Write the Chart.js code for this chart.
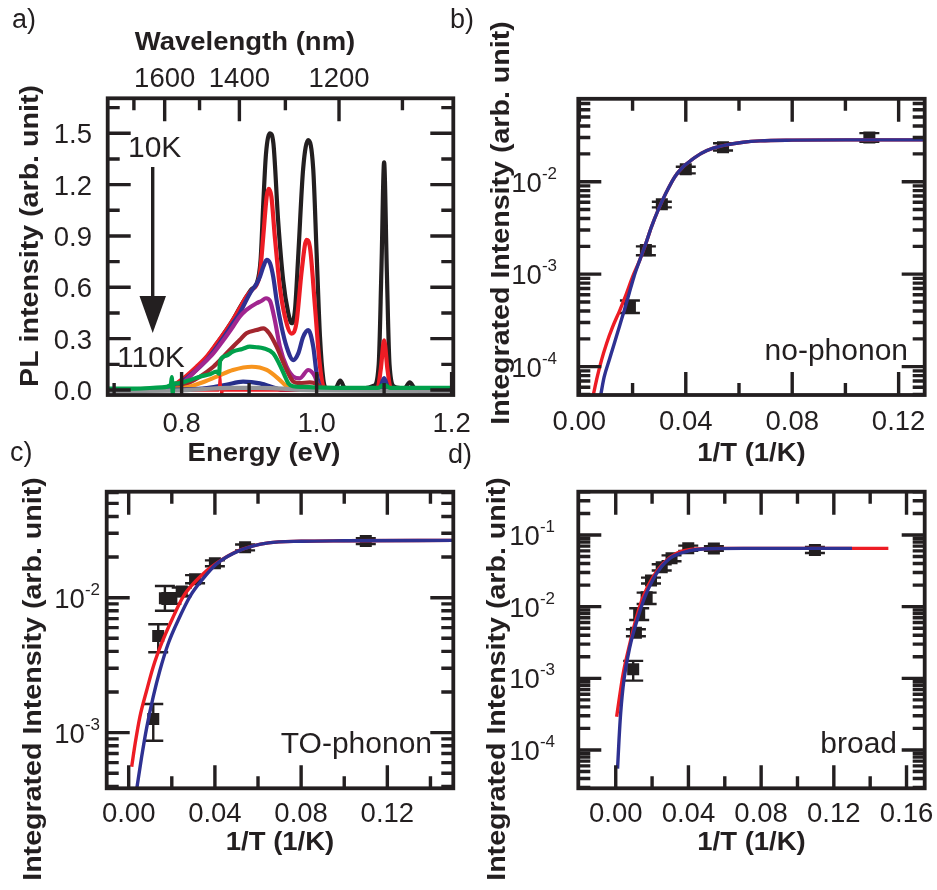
<!DOCTYPE html>
<html lang="en">
<head>
<meta charset="UTF-8">
<title>PL spectra and integrated intensity vs 1/T</title>
<script src="https://cdn.jsdelivr.net/npm/chart.js"></script>
<style>
  body { margin: 0; background: #fff; }
  #wrap { position: relative; width: 937px; height: 890px; }
  #wrap canvas { position: absolute; left: 0; top: 0; }
</style>
</head>
<body>
<div id="wrap">
  <canvas id="panelA" width="937" height="890"></canvas>
  <canvas id="panelB" width="937" height="890"></canvas>
  <canvas id="panelC" width="937" height="890"></canvas>
  <canvas id="panelD" width="937" height="890"></canvas>
</div>
<script>
// ---- a) PL spectra, [energy (eV), intensity] ----
const spec10K = [[0.69,0.005],[0.76,0.005],[0.785,0.02],[0.80,0.05],[0.82,0.12],[0.837,0.19],[0.852,0.27],[0.866,0.35],[0.876,0.41],[0.886,0.48],[0.896,0.545],[0.904,0.59],[0.911,0.62],[0.917,0.76],[0.921,1.09],[0.925,1.38],[0.931,1.50],[0.936,1.44],[0.943,0.99],[0.9505,0.64],[0.958,0.45],[0.963,0.39],[0.968,0.47],[0.973,0.80],[0.980,1.29],[0.9876,1.46],[0.995,1.29],[1.0,0.80],[1.005,0.31],[1.01,0.06],[1.015,0.01],[1.028,0.012],[1.035,0.055],[1.042,0.012],[1.07,0.01],[1.085,0.025],[1.092,0.15],[1.096,0.70],[1.100,1.33],[1.104,0.70],[1.108,0.15],[1.115,0.02],[1.13,0.01],[1.138,0.045],[1.146,0.01],[1.203,0.005]];
const spec20K = [[0.69,0.005],[0.775,0.008],[0.788,0.029],[0.8025,0.068],[0.822,0.136],[0.837,0.195],[0.852,0.273],[0.866,0.35],[0.876,0.41],[0.886,0.477],[0.896,0.545],[0.904,0.584],[0.911,0.614],[0.916,0.68],[0.921,0.90],[0.926,1.13],[0.929,1.175],[0.933,1.13],[0.938,0.90],[0.9456,0.60],[0.953,0.43],[0.963,0.33],[0.970,0.39],[0.978,0.70],[0.985,0.877],[0.990,0.837],[0.9976,0.487],[1.004,0.175],[1.01,0.02],[1.016,0.005],[1.09,0.008],[1.095,0.12],[1.1,0.29],[1.105,0.12],[1.11,0.008],[1.203,0.005]];
const spec30K = [[0.69,0.0],[0.78,0.005],[0.7975,0.04],[0.817,0.10],[0.837,0.175],[0.852,0.25],[0.866,0.33],[0.876,0.39],[0.886,0.448],[0.896,0.526],[0.9037,0.58],[0.911,0.62],[0.916,0.662],[0.921,0.72],[0.926,0.76],[0.931,0.74],[0.9357,0.662],[0.9407,0.526],[0.948,0.37],[0.9555,0.253],[0.9654,0.175],[0.9728,0.214],[0.980,0.31],[0.9876,0.35],[0.995,0.253],[1.0,0.097],[1.005,0.02],[1.01,0.005],[1.093,0.005],[1.1,0.07],[1.107,0.005],[1.203,0.0]];
const spec40K = [[0.69,0.0],[0.79,0.01],[0.807,0.06],[0.827,0.136],[0.847,0.214],[0.862,0.292],[0.876,0.37],[0.886,0.428],[0.896,0.468],[0.911,0.507],[0.918,0.52],[0.925,0.536],[0.931,0.52],[0.938,0.41],[0.9456,0.253],[0.9555,0.136],[0.9654,0.078],[0.975,0.068],[0.9876,0.117],[0.9975,0.078],[1.0025,0.02],[1.008,0.005],[1.203,0.0]];
const spec50K = [[0.69,0.0],[0.79,0.01],[0.807,0.035],[0.827,0.078],[0.847,0.136],[0.862,0.195],[0.876,0.253],[0.886,0.292],[0.896,0.331],[0.911,0.35],[0.921,0.36],[0.93,0.33],[0.9407,0.253],[0.9556,0.117],[0.9654,0.049],[0.975,0.04],[0.99,0.045],[1.0,0.035],[1.008,0.01],[1.015,0.003],[1.203,0.0]];
const spec60K = [[0.69,0.008],[0.73,0.008],[0.77,0.015],[0.784,0.03],[0.7855,0.075],[0.7868,-0.03],[0.788,0.04],[0.7926,0.039],[0.81,0.055],[0.827,0.078],[0.84,0.09],[0.852,0.107],[0.8555,0.095],[0.857,0.17],[0.866,0.2],[0.876,0.225],[0.89,0.24],[0.901,0.253],[0.911,0.25],[0.921,0.244],[0.9357,0.214],[0.945,0.15],[0.952,0.09],[0.958,0.04],[0.965,0.022],[0.98,0.018],[1.0,0.015],[1.05,0.012],[1.09,0.012],[1.1,0.03],[1.11,0.012],[1.15,0.012],[1.203,0.012]];
const spec70K = [[0.69,0.0],[0.80,0.01],[0.827,0.039],[0.852,0.078],[0.876,0.117],[0.904,0.136],[0.926,0.117],[0.9456,0.058],[0.956,0.02],[0.965,0.005],[1.203,0.0]];
const spec80K = [[0.69,0.0],[0.82,0.005],[0.845,0.015],[0.866,0.03],[0.891,0.049],[0.916,0.039],[0.94,0.01],[0.95,0.0],[1.203,0.0]];
const spec90K = [[0.69,-0.005],[0.80,-0.002],[0.83,0.005],[0.87,0.012],[0.91,0.012],[0.95,0.008],[0.975,0.0],[1.203,-0.005]];
const spec100K = [[0.69,-0.003],[0.855,-0.003],[0.857,0.09],[0.859,-0.04],[0.861,-0.003],[1.203,-0.003]];

const aYTicks = [0, 0.3, 0.6, 0.9, 1.2, 1.5];
const aXTicks = [0.8, 1.0, 1.2];
const aWavelengthTicks = [1600, 1400, 1200];

// ---- b) no-phonon line ----
const nophX  = [0.019, 0.025, 0.031, 0.040, 0.054, 0.109];
const nophY  = [4.5e-4, 1.82e-3, 5.7e-3, 1.36e-2, 2.36e-2, 3.0e-2];
const nophLo = [3.8e-4, 1.6e-3, 5.27e-3, 1.23e-2, 2.17e-2, 2.7e-2];
const nophHi = [5.2e-4, 2.0e-3, 6.07e-3, 1.45e-2, 2.6e-2, 3.35e-2];
const nophFitRed  = [[0.0052,4.89e-5],[0.0067,7.7e-5],[0.0083,1.17e-4],[0.0102,1.77e-4],[0.0125,2.69e-4],[0.0152,4.07e-4],[0.0177,6.18e-4],[0.0200,9.35e-4],[0.0227,1.42e-3],[0.0250,2.15e-3],[0.0271,3.25e-3],[0.0296,4.93e-3],[0.0325,7.48e-3],[0.0359,1.13e-2],[0.0390,1.45e-2],[0.0422,1.72e-2],[0.0459,2.03e-2],[0.0503,2.3e-2],[0.0553,2.5e-2],[0.0616,2.67e-2],[0.0679,2.76e-2],[0.08,2.81e-2],[0.10,2.83e-2],[0.13,2.83e-2]];
const nophFitBlue = [[0.0080,4.89e-5],[0.0093,7.7e-5],[0.0112,1.17e-4],[0.0131,1.77e-4],[0.0150,2.69e-4],[0.0169,4.07e-4],[0.0187,6.18e-4],[0.0205,9.35e-4],[0.0227,1.42e-3],[0.0250,2.15e-3],[0.0271,3.25e-3],[0.0296,4.93e-3],[0.0325,7.48e-3],[0.0359,1.13e-2],[0.0390,1.45e-2],[0.0422,1.72e-2],[0.0459,2.03e-2],[0.0503,2.3e-2],[0.0553,2.5e-2],[0.0616,2.67e-2],[0.0679,2.76e-2],[0.08,2.81e-2],[0.10,2.83e-2],[0.13,2.83e-2]];

// ---- c) TO-phonon replica ----
const toX  = [0.0114, 0.0137, 0.0168, 0.0198, 0.0246, 0.0308, 0.040, 0.054, 0.110];
const toY  = [1.26e-3, 5.2e-3, 9.9e-3, 9.9e-3, 1.11e-2, 1.37e-2, 1.8e-2, 2.36e-2, 2.63e-2];
const toLo = [8.7e-4, 3.94e-3, 8.0e-3, 9.0e-3, 1.03e-2, 1.28e-2, 1.71e-2, 2.24e-2, 2.5e-2];
const toHi = [1.63e-3, 6.35e-3, 1.22e-2, 1.08e-2, 1.19e-2, 1.47e-2, 1.89e-2, 2.48e-2, 2.76e-2];
const toFitRed  = [[0.0014,5.6e-4],[0.003,8.3e-4],[0.0052,1.31e-3],[0.0084,2.07e-3],[0.0114,3.08e-3],[0.0153,4.6e-3],[0.020,6.84e-3],[0.0253,1.02e-2],[0.0331,1.43e-2],[0.0408,1.8e-2],[0.0516,2.25e-2],[0.0648,2.55e-2],[0.08,2.62e-2],[0.10,2.64e-2],[0.1506,2.66e-2]];
const toFitBlue = [[0.0037,3.8e-4],[0.006,6.6e-4],[0.0084,1.1e-3],[0.0114,1.85e-3],[0.0145,2.9e-3],[0.0184,4.6e-3],[0.023,6.84e-3],[0.0284,1.02e-2],[0.0346,1.39e-2],[0.0408,1.78e-2],[0.0516,2.24e-2],[0.0648,2.55e-2],[0.08,2.62e-2],[0.10,2.64e-2],[0.1506,2.66e-2]];

// ---- d) broad band ----
const brX  = [0.0096, 0.0111, 0.0129, 0.017, 0.0194, 0.0253, 0.0307, 0.0399, 0.054, 0.1096];
const brY  = [1.34e-3, 4.34e-3, 7.9e-3, 1.35e-2, 2.31e-2, 3.54e-2, 4.73e-2, 6.52e-2, 6.5e-2, 6.18e-2];
const brLo = [9.3e-4, 3.87e-3, 6.5e-3, 1.09e-2, 2.1e-2, 3.2e-2, 4.3e-2, 6.0e-2, 6.0e-2, 5.6e-2];
const brHi = [1.75e-3, 4.85e-3, 9.5e-3, 1.57e-2, 2.54e-2, 3.9e-2, 5.2e-2, 7.1e-2, 7.0e-2, 6.8e-2];
const brFitRed  = [[0.0005,2.92e-4],[0.0041,1.17e-3],[0.0078,3.08e-3],[0.0115,7.24e-3],[0.0151,1.38e-2],[0.0206,2.62e-2],[0.0261,4.02e-2],[0.0335,5.55e-2],[0.0445,6.38e-2],[0.06,6.5e-2],[0.15,6.5e-2]];
const brFitBlue = [[0.001,5.5e-5],[0.0018,1.38e-4],[0.0027,3.25e-4],[0.0045,9.5e-4],[0.0078,2.77e-3],[0.0115,6.18e-3],[0.0161,1.38e-2],[0.0225,2.92e-2],[0.0298,4.73e-2],[0.0408,6.04e-2],[0.0518,6.43e-2],[0.07,6.5e-2],[0.13,6.5e-2]];

const invTTicksBC = [0, 0.04, 0.08, 0.12];
const invTTicksD  = [0, 0.04, 0.08, 0.12, 0.16];

// ---- drawing helpers ----
const W = 937, H = 890;
const FONT = '"Liberation Sans", Arial, Helvetica, sans-serif';
const INK = '#231f20';
const RED = '#ed1c24', BLUE = '#2e3192';
const LONG = 23, SHORT = 12, CAP = 10;

const toXY = arr => arr.map(([x, y]) => ({ x, y }));
const zipXY = (xs, ys) => xs.map((x, i) => ({ x, y: ys[i] }));

function label(ctx, s, x, y, o = {}) {
  ctx.save();
  ctx.font = (o.bold ? 'bold ' : '') + (o.size || 27.5) + 'px ' + FONT;
  ctx.fillStyle = INK;
  ctx.textAlign = o.align || 'left';
  ctx.textBaseline = 'alphabetic';
  ctx.translate(x, y);
  if (o.rot) ctx.rotate(-Math.PI / 2);
  if (o.sx) ctx.scale(o.sx, 1);
  ctx.fillText(s, 0, 0);
  ctx.restore();
}

function powLabel(ctx, exp, right, yPix) {
  ctx.save();
  ctx.font = '17px ' + FONT;
  const sup = String(exp);
  const w = ctx.measureText(sup).width;
  ctx.restore();
  label(ctx, sup, right - w, yPix - 3, { size: 17 });
  label(ctx, '10', right - w, yPix + 10, { align: 'right' });
}

function linearTicks(from, to, step) {
  const out = [];
  for (let v = from; v <= to + step / 1000; v += step) out.push(+v.toFixed(6));
  return out;
}

function logTicks(min, max) {
  const major = [], minor = [];
  for (let e = Math.floor(Math.log10(min)); e <= Math.ceil(Math.log10(max)); e++) {
    const d = Math.pow(10, e);
    if (d >= min && d <= max) major.push(d);
    for (let m = 2; m < 10; m++) {
      const v = m * d;
      if (v >= min && v <= max) minor.push(v);
    }
  }
  return { major, minor };
}

function xTicks(ctx, chart, values, len, sides) {
  const a = chart.chartArea, x = chart.scales.x;
  ctx.beginPath();
  values.forEach(v => {
    const p = x.getPixelForValue(v);
    if (sides.includes('b')) { ctx.moveTo(p, a.bottom); ctx.lineTo(p, a.bottom - len); }
    if (sides.includes('t')) { ctx.moveTo(p, a.top); ctx.lineTo(p, a.top + len); }
  });
  ctx.stroke();
}

function yTicks(ctx, chart, values, len) {
  const a = chart.chartArea, y = chart.scales.y;
  ctx.beginPath();
  values.forEach(v => {
    const p = y.getPixelForValue(v);
    ctx.moveTo(a.left, p); ctx.lineTo(a.left + len, p);
    ctx.moveTo(a.right, p); ctx.lineTo(a.right - len, p);
  });
  ctx.stroke();
}

function frame(ctx, chart) {
  const a = chart.chartArea;
  ctx.lineWidth = 3.8;
  ctx.strokeStyle = INK;
  ctx.lineCap = 'butt';
  ctx.strokeRect(a.left, a.top, a.right - a.left, a.bottom - a.top);
}

function decor(draw) {
  return { id: 'decor', afterDraw(chart) { const ctx = chart.ctx; ctx.save(); draw(chart, ctx); ctx.restore(); } };
}

function errorBars(xs, lo, hi) {
  return {
    id: 'errorBars',
    beforeDatasetsDraw(chart) {
      const { ctx, scales: { x, y } } = chart;
      ctx.save();
      ctx.strokeStyle = INK;
      ctx.lineWidth = 2.4;
      xs.forEach((v, i) => {
        const px = x.getPixelForValue(v);
        const p1 = y.getPixelForValue(lo[i]), p2 = y.getPixelForValue(hi[i]);
        ctx.beginPath();
        ctx.moveTo(px, p1); ctx.lineTo(px, p2);
        ctx.moveTo(px - CAP, p1); ctx.lineTo(px + CAP, p1);
        ctx.moveTo(px - CAP, p2); ctx.lineTo(px + CAP, p2);
        ctx.stroke();
      });
      ctx.restore();
    }
  };
}

function baseOptions(area, xRange, yRange, yType) {
  return {
    responsive: false,
    animation: false,
    events: [],
    layout: { padding: { left: area.left, top: area.top, right: W - area.right, bottom: H - area.bottom } },
    plugins: { legend: { display: false }, tooltip: { enabled: false } },
    scales: {
      x: { type: 'linear', display: false, min: xRange[0], max: xRange[1] },
      y: { type: yType, display: false, min: yRange[0], max: yRange[1] }
    }
  };
}

function line(data, color, order, width) {
  return {
    type: 'line', data: toXY(data), borderColor: color, borderWidth: width || 4.2,
    pointRadius: 0, fill: false, cubicInterpolationMode: 'monotone', order
  };
}

function markers(xs, ys) {
  return {
    type: 'scatter', data: zipXY(xs, ys), pointStyle: 'rect', pointRadius: 8.5,
    backgroundColor: INK, borderWidth: 0, order: 3
  };
}

// ---- panel a: spectra ----
const HC = 1239.84; // eV*nm
new Chart(document.getElementById('panelA'), {
  type: 'line',
  data: {
    datasets: [
      line(spec10K, INK, 9),
      line(spec20K, RED, 8),
      line(spec30K, BLUE, 7),
      line(spec40K, '#a1258f', 6),
      line(spec50K, '#a3262e', 5),
      line(spec70K, '#f7941d', 4),
      line(spec80K, '#262f8a', 3),
      line(spec100K, RED, 2.5, 2.5),
      line(spec90K, '#939598', 2),
      line(spec60K, '#00a04b', 1)
    ]
  },
  options: baseOptions({ left: 107.7, top: 98.3, right: 453.3, bottom: 395 }, [0.6905, 1.2025], [-0.0292, 1.7045], 'linear'),
  plugins: [decor((chart, ctx) => {
    const a = chart.chartArea, x = chart.scales.x, y = chart.scales.y;
    frame(ctx, chart);
    ctx.lineWidth = 3.4;
    xTicks(ctx, chart, aXTicks, LONG, 'b');
    xTicks(ctx, chart, [0.7, 0.9, 1.1], SHORT, 'b');
    yTicks(ctx, chart, aYTicks, LONG);
    yTicks(ctx, chart, linearTicks(0.15, 1.65, 0.3), SHORT);
    // wavelength axis on top
    ctx.beginPath();
    aWavelengthTicks.forEach(nm => { const p = x.getPixelForValue(HC / nm); ctx.moveTo(p, a.top); ctx.lineTo(p, a.top + LONG); });
    [1700, 1500, 1300, 1100].forEach(nm => { const p = x.getPixelForValue(HC / nm); ctx.moveTo(p, a.top); ctx.lineTo(p, a.top + SHORT); });
    ctx.stroke();
    aWavelengthTicks.forEach(nm => label(ctx, String(nm), x.getPixelForValue(HC / nm), 87, { align: 'center' }));
    aYTicks.forEach(v => label(ctx, v.toFixed(1), 92, y.getPixelForValue(v) + 10, { align: 'right' }));
    aXTicks.forEach(v => label(ctx, v.toFixed(1), x.getPixelForValue(v), 432, { align: 'center' }));
    label(ctx, 'Wavelength (nm)', 245, 50, { bold: true, size: 25, sx: 1.1, align: 'center' });
    label(ctx, 'Energy (eV)', 264, 461, { bold: true, size: 25, sx: 1.1, align: 'center' });
    label(ctx, 'PL intensity (arb. unit)', 38, 236, { bold: true, size: 26, sx: 1.1, align: 'center', rot: true });
    label(ctx, 'a)', 12, 28, { size: 27 });
    label(ctx, '10K', 128, 157, { size: 30 });
    label(ctx, '110K', 117, 367, { size: 30 });
    // temperature arrow
    ctx.lineWidth = 3.4;
    ctx.beginPath(); ctx.moveTo(152.7, 167); ctx.lineTo(152.7, 300); ctx.stroke();
    ctx.fillStyle = INK;
    ctx.beginPath(); ctx.moveTo(139.5, 296); ctx.lineTo(166, 296); ctx.lineTo(152.7, 333); ctx.closePath(); ctx.fill();
  })]
});

// ---- log panels b, c, d ----
function logPanel(id, cfg) {
  new Chart(document.getElementById(id), {
    type: 'scatter',
    data: {
      datasets: [
        markers(cfg.xs, cfg.ys),
        Object.assign(line(cfg.fitRed, RED, 2, 3.4), { showLine: true }),
        Object.assign(line(cfg.fitBlue, BLUE, 1, 3.4), { showLine: true })
      ]
    },
    options: baseOptions(cfg.area, cfg.xRange, cfg.yRange, 'logarithmic'),
    plugins: [errorBars(cfg.xs, cfg.lo, cfg.hi), decor((chart, ctx) => {
      const x = chart.scales.x, y = chart.scales.y;
      frame(ctx, chart);
      ctx.lineWidth = 3.4;
      const lt = logTicks(cfg.yRange[0], cfg.yRange[1]);
      xTicks(ctx, chart, cfg.xMajor, LONG, 'bt');
      xTicks(ctx, chart, cfg.xMinor, SHORT, 'bt');
      yTicks(ctx, chart, lt.major, LONG);
      yTicks(ctx, chart, lt.minor, SHORT);
      cfg.xMajor.forEach(v => label(ctx, v.toFixed(2), x.getPixelForValue(v), cfg.xLabelBase, { align: 'center' }));
      lt.major.forEach(v => powLabel(ctx, '-' + Math.round(-Math.log10(v)), cfg.yLabelRight, y.getPixelForValue(v)));
      label(ctx, '1/T (1/K)', cfg.xTitle[0], cfg.xTitle[1], { bold: true, size: 25, sx: 1.1, align: 'center' });
      label(ctx, 'Integrated Intensity (arb. unit)', cfg.yTitle[0], cfg.yTitle[1], { bold: true, size: 26, sx: 1.1, align: 'center', rot: true });
      label(ctx, cfg.tag, cfg.tagPos[0], cfg.tagPos[1], { size: 30, align: 'right' });
      label(ctx, cfg.letter, cfg.letterPos[0], cfg.letterPos[1], { size: 27 });
    })]
  });
}

logPanel('panelB', {
  xs: nophX, ys: nophY, lo: nophLo, hi: nophHi, fitRed: nophFitRed, fitBlue: nophFitBlue,
  area: { left: 578.3, top: 98.8, right: 924.7, bottom: 395 },
  xRange: [-0.0004, 0.1298], yRange: [4.94e-5, 0.0787],
  xMajor: invTTicksBC, xMinor: [0.02, 0.06, 0.10],
  xLabelBase: 430, yLabelRight: 557,
  xTitle: [751.5, 461], yTitle: [509, 223],
  tag: 'no-phonon', tagPos: [908, 360],
  letter: 'b)', letterPos: [450, 28]
});

logPanel('panelC', {
  xs: toX, ys: toY, lo: toLo, hi: toHi, fitRed: toFitRed, fitBlue: toFitBlue,
  area: { left: 106.7, top: 491.7, right: 453.3, bottom: 788.3 },
  xRange: [-0.0102, 0.1506], yRange: [3.87e-4, 0.061],
  xMajor: invTTicksBC, xMinor: [0.02, 0.06, 0.10, 0.14],
  xLabelBase: 822, yLabelRight: 100,
  xTitle: [280, 850], yTitle: [41, 679],
  tag: 'TO-phonon', tagPos: [432, 753],
  letter: 'c)', letterPos: [10, 461]
});

logPanel('panelD', {
  xs: brX, ys: brY, lo: brLo, hi: brHi, fitRed: brFitRed, fitBlue: brFitBlue,
  area: { left: 578.3, top: 491.7, right: 924.7, bottom: 788.3 },
  xRange: [-0.0206, 0.170], yRange: [2.92e-5, 0.402],
  xMajor: invTTicksD, xMinor: [0.02, 0.06, 0.10, 0.14],
  xLabelBase: 822, yLabelRight: 555,
  xTitle: [751.5, 850], yTitle: [505, 679],
  tag: 'broad', tagPos: [897, 753],
  letter: 'd)', letterPos: [448, 463]
});
</script>
</body>
</html>
